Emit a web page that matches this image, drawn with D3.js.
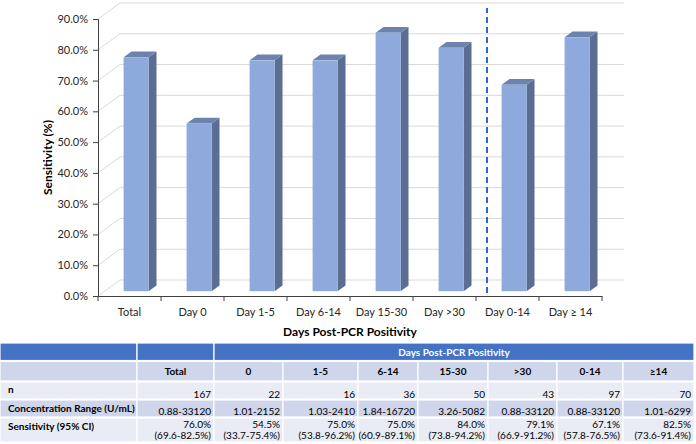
<!DOCTYPE html>
<html>
<head>
<meta charset="utf-8">
<script src="https://cdn.jsdelivr.net/npm/d3@7"></script>
<style>
  html, body { margin: 0; padding: 0; background: #ffffff; }
  svg { display: block; font-family: Lato, "Open Sans", sans-serif; }
</style>
</head>
<body>
<svg id="chart" width="696" height="444"></svg>
<script>
// ---------------- DATA ----------------
const categories = ["Total", "Day 0", "Day 1-5", "Day 6-14", "Day 15-30", "Day >30", "Day 0-14", "Day \u2265 14"];
const sensitivity = [76.0, 54.5, 75.0, 75.0, 84.0, 79.1, 67.1, 82.5];
const yTicks = [0, 10, 20, 30, 40, 50, 60, 70, 80, 90];
const yAxisTitle = "Sensitivity (%)";
const xAxisTitle = "Days Post-PCR Positivity";
const dividerAfter = "Day >30";

const tableGroupHeader = "Days Post-PCR Positivity";
const tableColumns = ["Total", "0", "1-5", "6-14", "15-30", ">30", "0-14", "\u226514"];
const rowLabels = ["n", "Concentration Range (U/mL)", "Sensitivity (95% CI)"];
const nValues = [167, 22, 16, 36, 50, 43, 97, 70];
const concRange = ["0.88-33120", "1.01-2152", "1.03-2410", "1.84-16720", "3.26-5082", "0.88-33120", "0.88-33120", "1.01-6299"];
const sensPoint = ["76.0%", "54.5%", "75.0%", "75.0%", "84.0%", "79.1%", "67.1%", "82.5%"];
const sensCI = ["(69.6-82.5%)", "(33.7-75.4%)", "(53.8-96.2%)", "(60.9-89.1%)", "(73.8-94.2%)", "(66.9-91.2%)", "(57.8-76.5%)", "(73.6-91.4%)"];

// ---------------- LAYOUT ----------------
const svg = d3.select("#chart");
const plot = { left: 98, right: 602, top: 19, bottom: 296 };
const wall = { dx: 22, dy: -16 };          // full depth offset of back wall
const barFront = 0.3, barBack = 0.66;      // bar depth fractions
const barW = 25;

const x = d3.scaleBand().domain(categories).range([plot.left, plot.right]).padding(0);
const y = d3.scaleLinear().domain([0, 90]).range([plot.bottom, plot.top]);

const gridColor = "#d9d9d9";
const axisColor = "#404040";
const textColor = "#262626";

// back wall gridlines + left side diagonals
const grid = svg.append("g");
grid.selectAll("line.h").data(yTicks).join("line")
  .attr("x1", plot.left + wall.dx).attr("x2", plot.right + wall.dx)
  .attr("y1", d => y(d) + wall.dy).attr("y2", d => y(d) + wall.dy)
  .attr("stroke", gridColor).attr("stroke-width", 1);
grid.selectAll("line.d").data(yTicks).join("line")
  .attr("x1", plot.left).attr("x2", plot.left + wall.dx)
  .attr("y1", d => y(d)).attr("y2", d => y(d) + wall.dy)
  .attr("stroke", gridColor).attr("stroke-width", 1);

// bars (3D)
const fdx = wall.dx * barFront, fdy = wall.dy * barFront;
const bdx = wall.dx * (barBack - barFront), bdy = wall.dy * (barBack - barFront);
const bars = svg.append("g");
categories.forEach((c, i) => {
  const xl = x(c) + x.bandwidth() / 2 - barW / 2 + fdx;
  const xr = xl + barW;
  const yt = y(sensitivity[i]) + fdy;
  const yb = y(0) + fdy;
  const g = bars.append("g");
  g.append("polygon")
    .attr("points", [[xr, yt], [xr + bdx, yt + bdy], [xr + bdx, yb + bdy], [xr, yb]].map(p => p.join(",")).join(" "))
    .attr("fill", "#5b6d93");
  g.append("polygon")
    .attr("points", [[xl, yt], [xl + bdx, yt + bdy], [xr + bdx, yt + bdy], [xr, yt]].map(p => p.join(",")).join(" "))
    .attr("fill", "#6d83ad");
  g.append("rect")
    .attr("x", xl).attr("y", yt).attr("width", barW).attr("height", yb - yt)
    .attr("fill", "#8eaadc");
});

// dashed divider
const divX = x(dividerAfter) + x.bandwidth() + wall.dx / 2;
svg.append("line")
  .attr("x1", divX).attr("x2", divX)
  .attr("y1", y(0) - 3).attr("y2", y(90) - 11)
  .attr("stroke", "#2d67d6").attr("stroke-width", 2)
  .attr("stroke-dasharray", "6,4");

// y axis
const yAxis = svg.append("g").attr("transform", `translate(${plot.left},0)`)
  .call(d3.axisLeft(y).tickValues(yTicks).tickSize(5).tickPadding(5).tickFormat(d => d.toFixed(1) + "%"));
yAxis.selectAll("path, line").attr("stroke", axisColor);
yAxis.selectAll("text").attr("font-size", 11).attr("fill", textColor).attr("font-family", "Lato, sans-serif");

// x axis
const xAxis = svg.append("g").attr("transform", `translate(0,${plot.bottom})`)
  .call(d3.axisBottom(x).tickSize(0).tickPadding(12).tickSizeOuter(0));
xAxis.select("path").attr("stroke", axisColor);
xAxis.selectAll("text").attr("font-size", 11).attr("fill", textColor).attr("font-family", "Lato, sans-serif");
const boundaries = categories.map(c => x(c)).concat([x(categories[categories.length - 1]) + x.bandwidth()]);
xAxis.selectAll("line.bt").data(boundaries).join("line").attr("class", "bt")
  .attr("x1", d => d).attr("x2", d => d).attr("y1", 0).attr("y2", 5)
  .attr("stroke", axisColor);

// axis titles
svg.append("text")
  .attr("transform", `translate(52,${(plot.top + plot.bottom) / 2}) rotate(-90)`)
  .attr("text-anchor", "middle").attr("font-weight", "bold").attr("font-size", 12)
  .attr("fill", "#000").text(yAxisTitle);
svg.append("text")
  .attr("x", (plot.left + plot.right) / 2).attr("y", 336)
  .attr("text-anchor", "middle").attr("font-weight", "bold").attr("font-size", 12)
  .attr("fill", "#000").text(xAxisTitle);

// ---------------- TABLE ----------------
const colEdges = [0, 137, 214, 283, 358, 418, 488, 557, 623, 694];
const rowEdges = [343, 360.5, 381, 399, 417, 442];
const headBlue = "#4472c4", dark = "#cfd5ea", light = "#e9ebf5";
const tbl = svg.append("g").attr("font-size", 10).attr("fill", "#000");

function cell(x0, x1, y0, y1, fill) {
  tbl.append("rect").attr("x", x0).attr("y", y0).attr("width", x1 - x0).attr("height", y1 - y0)
    .attr("fill", fill).attr("stroke", "#ffffff").attr("stroke-width", 1.2);
}
// header row
cell(colEdges[0], colEdges[1], rowEdges[0], rowEdges[1], headBlue);
cell(colEdges[1], colEdges[2], rowEdges[0], rowEdges[1], headBlue);
cell(colEdges[2], colEdges[colEdges.length - 1], rowEdges[0], rowEdges[1], headBlue);
tbl.append("text").attr("x", (colEdges[2] + colEdges[colEdges.length - 1]) / 2).attr("y", rowEdges[1] - 5)
  .attr("text-anchor", "middle").attr("font-weight", "bold").attr("fill", "#fff").text(tableGroupHeader);

// body rows
const rowFills = [dark, light, dark, light];
for (let r = 0; r < 4; r++) {
  for (let c = 0; c < colEdges.length - 1; c++) {
    cell(colEdges[c], colEdges[c + 1], rowEdges[r + 1] + 1, rowEdges[r + 2], rowFills[r]);
  }
}
// column headers
tableColumns.forEach((t, i) => {
  tbl.append("text").attr("x", (colEdges[i + 1] + colEdges[i + 2]) / 2).attr("y", 375)
    .attr("text-anchor", "middle").attr("font-weight", "bold").text(t);
});
// row labels
const labelY = [393, 411.5, 429.5];
rowLabels.forEach((t, i) => {
  tbl.append("text").attr("x", 8).attr("y", labelY[i]).attr("font-weight", "bold").text(t);
});
// values
nValues.forEach((v, i) => {
  tbl.append("text").attr("x", colEdges[i + 2] - 3).attr("y", 397.5).attr("text-anchor", "end").text(v);
});
concRange.forEach((v, i) => {
  tbl.append("text").attr("x", colEdges[i + 2] - 3).attr("y", 414.5).attr("text-anchor", "end").text(v);
});
sensPoint.forEach((v, i) => {
  tbl.append("text").attr("x", colEdges[i + 2] - 3).attr("y", 428).attr("text-anchor", "end").text(v);
  tbl.append("text").attr("x", colEdges[i + 2] - 3).attr("y", 439).attr("text-anchor", "end").text(sensCI[i]);
});
</script>
</body>
</html>
